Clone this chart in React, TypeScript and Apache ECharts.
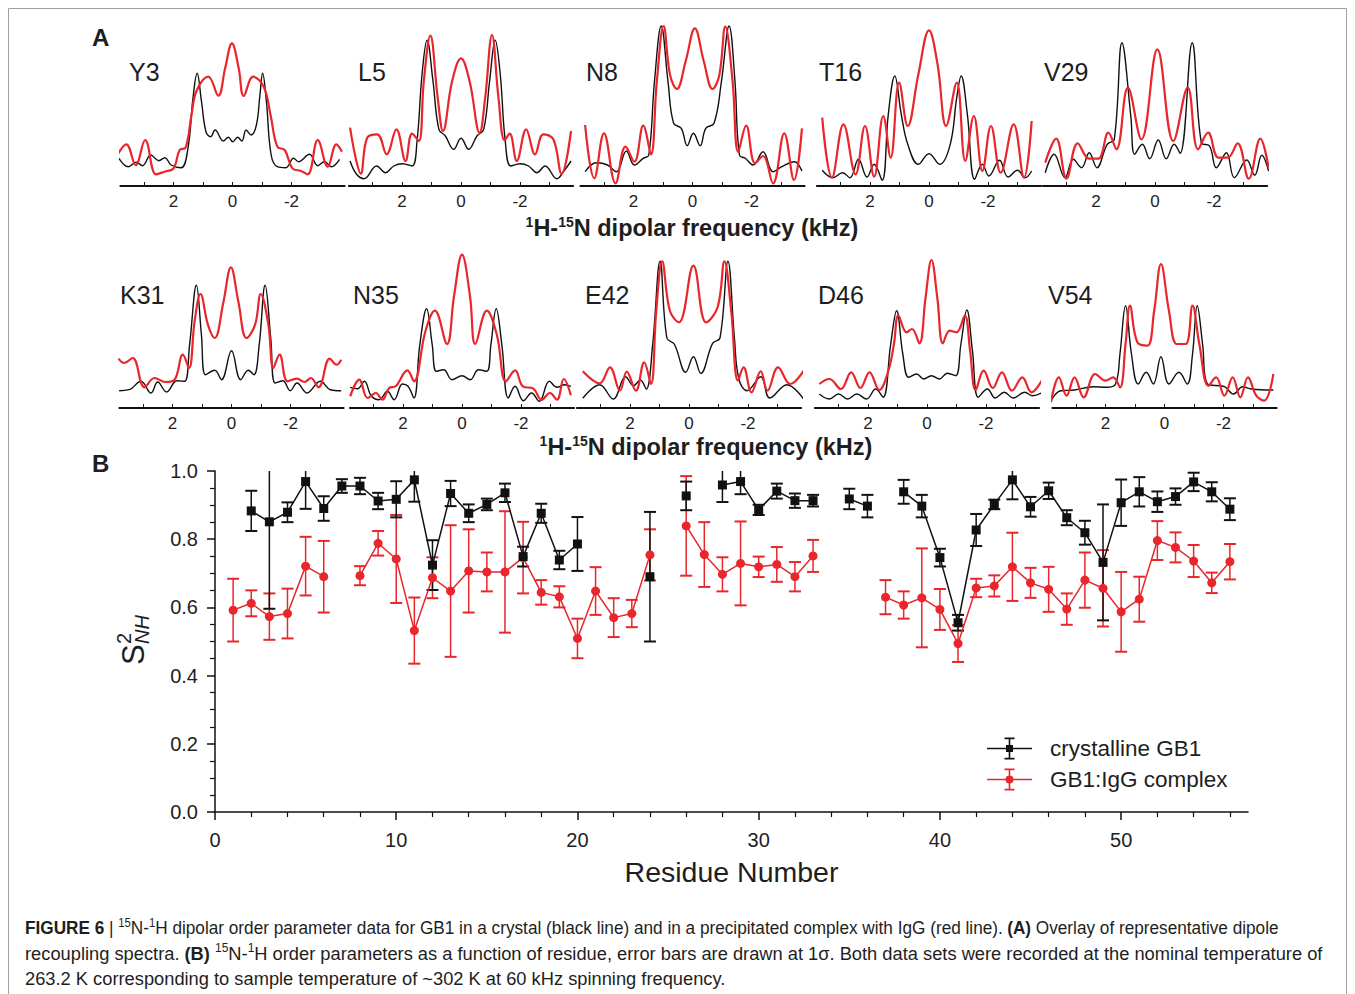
import React, { useEffect, useRef } from "react";
import * as echarts from "echarts";

// ---------------- Panel B data (residue-indexed, 1..56) ----------------
const residues = Array.from({ length: 56 }, (_, i) => i + 1);
const xTickValues = [0, 10, 20, 30, 40, 50];
const xMinorTickValues = [2, 4, 6, 8, 12, 14, 16, 18, 22, 24, 26, 28, 32, 34, 36, 38, 42, 44, 46, 48, 52, 54, 56];
const crystalS2 = [null, 0.883, 0.851, 0.879, 0.969, 0.890, 0.956, 0.956, 0.912, 0.917, 0.974, 0.724, 0.934, 0.876, 0.902, 0.936, 0.749, 0.876, 0.739, 0.786, null, null, null, 0.690, null, 0.927, null, 0.959, 0.969, 0.886, 0.941, 0.913, 0.913, null, 0.918, 0.897, null, 0.939, 0.897, 0.746, 0.555, 0.827, 0.902, 0.974, 0.895, 0.942, 0.863, 0.819, 0.732, 0.907, 0.939, 0.910, 0.925, 0.968, 0.939, 0.888];
const crystalErr = [null, 0.059, 0.255, 0.029, 0.08, 0.036, 0.02, 0.024, 0.024, 0.053, 0.064, 0.073, 0.037, 0.026, 0.017, 0.027, 0.029, 0.028, 0.027, 0.079, null, null, null, 0.19, null, 0.042, null, 0.05, 0.037, 0.015, 0.022, 0.021, 0.017, null, 0.03, 0.033, null, 0.035, 0.033, 0.026, 0.023, 0.047, 0.014, 0.057, 0.029, 0.024, 0.022, 0.035, 0.17, 0.068, 0.043, 0.03, 0.024, 0.027, 0.028, 0.032];
const complexS2 = [0.592, 0.612, 0.573, 0.582, 0.721, 0.690, null, 0.693, 0.788, 0.742, 0.532, 0.687, 0.648, 0.707, 0.704, 0.704, 0.746, 0.644, 0.631, 0.509, 0.648, 0.570, 0.582, 0.754, null, 0.839, 0.755, 0.697, 0.729, 0.719, 0.726, 0.690, 0.751, null, null, null, 0.630, 0.607, 0.628, 0.594, 0.494, 0.657, 0.663, 0.719, 0.672, 0.653, 0.595, 0.680, 0.656, 0.587, 0.624, 0.796, 0.776, 0.736, 0.672, 0.734];
const complexErr = [0.092, 0.038, 0.068, 0.073, 0.086, 0.105, null, 0.028, 0.036, 0.129, 0.097, 0.06, 0.193, 0.122, 0.057, 0.178, 0.105, 0.036, 0.031, 0.058, 0.07, 0.057, 0.04, 0.075, null, 0.146, 0.095, 0.05, 0.123, 0.03, 0.051, 0.043, 0.047, null, null, null, 0.05, 0.04, 0.145, 0.06, 0.054, 0.027, 0.031, 0.1, 0.044, 0.066, 0.046, 0.081, 0.112, 0.117, 0.066, 0.057, 0.044, 0.047, 0.03, 0.052];

// ---------------- Panel A spectra: [kHz, intensity] ----------------
const specTickValues = [-3, -2, -1, 0, 1, 2, 3];
const specLabelValues = [-2, 0, 2];
const y3Crystal = [[3.85, 27.7], [3.53, 19.3], [3.26, 23.7], [3.05, 20.3], [2.77, 31], [2.5, 25.3], [2.29, 28.3], [2.08, 21], [1.74, 18.3], [1.51, 37.7], [1.34, 87.7], [1.2, 112.7], [1.05, 84.3], [0.9, 54.3], [0.74, 49.3], [0.59, 56], [0.31, 45], [0.14, 48.7], [-0.01, 44.3], [-0.17, 48.7], [-0.32, 45], [-0.46, 56], [-0.63, 51], [-0.81, 61], [-0.93, 91], [-1.02, 112.7], [-1.15, 84.3], [-1.31, 31], [-1.52, 19.3], [-1.81, 18.3], [-2.07, 27.7], [-2.24, 24.3], [-2.61, 31.7], [-2.89, 20.3], [-3.12, 24.3], [-3.35, 19.3], [-3.63, 26.7]];
const y3Complex = [[3.87, 32.7], [3.6, 41.7], [3.28, 21], [2.96, 46], [2.59, 11.7], [2.31, 14.3], [2.0, 17.7], [1.79, 36], [1.59, 38.3], [1.39, 71], [1.22, 95], [0.82, 109.3], [0.48, 90.3], [0.25, 117.7], [0.02, 142.7], [-0.21, 117.7], [-0.38, 90], [-0.7, 109.3], [-1.06, 99.3], [-1.29, 71], [-1.52, 39.3], [-1.77, 36], [-2.03, 17.7], [-2.32, 15], [-2.55, 11.7], [-2.89, 46], [-3.23, 19.3], [-3.52, 41.7], [-3.71, 34.3]];
const l5Crystal = [[3.76, 25], [3.54, 11.7], [3.29, 7.3], [2.86, 20], [2.56, 13.3], [2.28, 20], [1.99, 22.3], [1.66, 20], [1.49, 45], [1.32, 111.7], [1.15, 145.7], [0.95, 105], [0.75, 56.7], [0.53, 50], [0.25, 36.7], [0, 47.7], [-0.26, 36.7], [-0.54, 50], [-0.77, 56.7], [-0.97, 105], [-1.16, 145.7], [-1.33, 111.7], [-1.5, 45], [-1.69, 20], [-2.01, 22.3], [-2.29, 20], [-2.57, 13.3], [-2.85, 20], [-3.25, 7.3], [-3.49, 15], [-3.73, 25]];
const l5Complex = [[3.76, 58.3], [3.57, 28], [3.4, 12.3], [3.18, 48.3], [2.84, 51.7], [2.52, 31.7], [2.19, 56.7], [1.88, 25], [1.66, 52.3], [1.43, 45], [1.26, 105], [1.04, 150.3], [0.79, 88.3], [0.61, 55], [0.3, 105], [0, 127.7], [-0.29, 105], [-0.63, 53.3], [-0.82, 88.3], [-1.05, 151], [-1.27, 88.3], [-1.48, 45.7], [-1.65, 52.3], [-1.89, 25], [-2.21, 56.7], [-2.51, 31.7], [-2.79, 51.7], [-3.13, 46.7], [-3.41, 12.3], [-3.73, 55]];
const n8Crystal = [[3.64, 14.3], [3.26, 23.3], [2.88, 21], [2.58, 14.3], [2.24, 35], [1.97, 21], [1.67, 27.7], [1.48, 31], [1.29, 104.3], [1.06, 160], [0.83, 104.3], [0.64, 62.7], [0.38, 57.7], [0.18, 40.3], [-0.03, 52.7], [-0.26, 40.3], [-0.45, 57.7], [-0.73, 62.7], [-0.98, 104.3], [-1.24, 160], [-1.44, 104.3], [-1.59, 31], [-1.79, 27.7], [-2.05, 21], [-2.39, 34.3], [-2.73, 14.3], [-3.03, 19.3], [-3.45, 24.3], [-3.71, 15]];
const n8Complex = [[3.64, 61], [3.33, 7.7], [3.0, 52.7], [2.61, 2.7], [2.27, 39.3], [1.97, 24.3], [1.67, 60.3], [1.41, 31.7], [1.21, 104.3], [0.98, 160], [0.76, 111], [0.53, 97], [0.23, 125], [-0.08, 157.7], [-0.38, 125], [-0.68, 97], [-0.91, 111], [-1.11, 159.3], [-1.36, 104.3], [-1.55, 34.3], [-1.82, 60.3], [-2.12, 22.7], [-2.39, 30], [-2.73, 2.7], [-3.11, 52.7], [-3.44, 6], [-3.71, 57.7]];
const t16Crystal = [[3.62, 15.7], [3.26, 8.3], [2.93, 13.3], [2.68, 8.3], [2.39, 26.7], [2.1, 9], [1.86, 21.7], [1.59, 5.7], [1.38, 71.7], [1.16, 110], [0.94, 71.7], [0.72, 41.7], [0.36, 21.7], [0, 32.3], [-0.36, 21.7], [-0.72, 41.7], [-0.94, 88.3], [-1.09, 110], [-1.3, 71.7], [-1.55, 6.7], [-1.81, 21.7], [-2.03, 10], [-2.39, 25.7], [-2.68, 9], [-3.0, 15.7], [-3.26, 8.3], [-3.48, 15]];
const t16Complex = [[3.62, 68.3], [3.29, 8.3], [2.9, 61.7], [2.49, 11.7], [2.17, 60], [1.86, 9.3], [1.55, 70], [1.3, 28.3], [1.01, 103.3], [0.72, 60], [0.36, 111.7], [0, 155.7], [-0.29, 121.7], [-0.58, 60], [-0.94, 103.3], [-1.23, 25], [-1.52, 70], [-1.81, 15], [-2.1, 60], [-2.43, 13.3], [-2.87, 61.7], [-3.22, 8.3], [-3.48, 65]];
const v29Crystal = [[3.72, 13.3], [3.42, 31.7], [3.05, 8.3], [2.77, 26.7], [2.49, 18.3], [2.23, 33.3], [1.97, 18.3], [1.62, 41.7], [1.38, 46.7], [1.12, 143.3], [0.82, 70], [0.69, 31.7], [0.43, 41.7], [0.18, 27.3], [-0.11, 46], [-0.38, 27.3], [-0.65, 41.7], [-0.85, 32.7], [-1.26, 143.3], [-1.57, 43.3], [-1.85, 40], [-2.08, 18.3], [-2.42, 33.3], [-2.69, 8.3], [-3.11, 26], [-3.38, 10.7], [-3.62, 30.7], [-3.85, 15]];
const v29Complex = [[3.72, 23.3], [3.35, 47.3], [3.0, 7.3], [2.62, 42.7], [2.23, 27.3], [1.92, 27.3], [1.58, 53.3], [1.31, 36.7], [0.92, 98.3], [0.46, 46.7], [-0.08, 136.7], [-0.62, 45], [-1.11, 98.3], [-1.46, 36.7], [-1.8, 53.3], [-2.15, 28.3], [-2.46, 28.3], [-2.8, 42.7], [-3.18, 7.3], [-3.57, 47.3], [-3.85, 18.3]];
const k31Crystal = [[3.81, 17.3], [3.47, 18.3], [3.07, 26.7], [2.73, 15], [2.5, 26], [2.2, 16], [1.85, 27.3], [1.59, 26.7], [1.42, 63.3], [1.19, 122.7], [1.02, 73.3], [0.88, 33.3], [0.57, 37.7], [0.34, 28.3], [0, 57.3], [-0.31, 28.3], [-0.57, 37.7], [-0.76, 33.3], [-0.94, 63.3], [-1.14, 122.7], [-1.33, 70], [-1.48, 25], [-1.74, 27.3], [-1.99, 17.3], [-2.22, 25], [-2.56, 15], [-3.01, 26.7], [-3.35, 18.3], [-3.72, 17.3]];
const k31Complex = [[3.83, 49.3], [3.64, 45], [3.35, 50], [2.95, 20.7], [2.61, 30], [2.24, 26], [1.93, 28.3], [1.65, 53.3], [1.44, 40], [1.25, 86.7], [1.05, 114], [0.8, 83.3], [0.57, 70], [0.28, 105], [0.02, 140.7], [-0.23, 106.7], [-0.51, 70], [-0.8, 83.3], [-0.99, 114], [-1.25, 83.3], [-1.42, 40], [-1.63, 53.3], [-1.9, 26.7], [-2.22, 29.3], [-2.47, 26], [-2.69, 30], [-2.95, 20.7], [-3.33, 49.3], [-3.56, 43.3], [-3.72, 48.3]];
const n35Crystal = [[3.79, 20.7], [3.54, 19.3], [3.31, 26.7], [3.07, 11.7], [2.81, 8.3], [2.53, 16.7], [2.3, 8.3], [2.02, 24], [1.83, 21.7], [1.63, 10], [1.43, 63.3], [1.2, 99.3], [1.01, 63.3], [0.87, 36.7], [0.62, 38.3], [0.34, 28.3], [0, 32.3], [-0.28, 28.3], [-0.56, 38.3], [-0.84, 36.7], [-0.98, 63.3], [-1.16, 99.3], [-1.35, 63.3], [-1.57, 10], [-1.8, 21.7], [-2.08, 7.3], [-2.36, 15], [-2.62, 6.7], [-2.96, 26.7], [-3.22, 20.7], [-3.48, 23.3], [-3.69, 21.7]];
const n35Complex = [[3.79, 11.7], [3.48, 28.3], [3.2, 10], [2.92, 15], [2.7, 8.3], [2.47, 20], [2.25, 21.7], [1.85, 37.7], [1.63, 26.7], [1.24, 76.7], [0.92, 97.3], [0.51, 64], [0.27, 112], [0, 153.3], [-0.27, 112], [-0.45, 64], [-0.84, 97.3], [-1.18, 73.3], [-1.49, 26.7], [-1.8, 37.7], [-2.06, 21.7], [-2.42, 19.3], [-2.7, 8.3], [-2.98, 15], [-3.22, 8.3], [-3.45, 29], [-3.69, 12.7]];
const e42Crystal = [[3.6, 9.7], [3.03, 23.3], [2.57, 9], [2.15, 31.3], [1.88, 22.3], [1.65, 28], [1.45, 19], [1.23, 64], [0.98, 146.7], [0.75, 70], [0.5, 64], [0.11, 35.7], [-0.15, 51.3], [-0.4, 34.7], [-0.8, 64.7], [-1.05, 70], [-1.32, 146.7], [-1.54, 70], [-1.69, 29], [-1.97, 17.3], [-2.43, 31.3], [-2.74, 10], [-3.32, 23.3], [-3.89, 8.7]];
const e42Complex = [[3.6, 36.7], [3.03, 24.7], [2.68, 40.7], [2.34, 17.3], [2.11, 36.3], [1.8, 17.3], [1.52, 45.7], [1.29, 24], [1.11, 97.3], [0.91, 146.7], [0.65, 97.3], [0.34, 85.7], [-0.15, 142.3], [-0.58, 85.7], [-0.97, 100.7], [-1.2, 146.7], [-1.43, 97.3], [-1.66, 27.3], [-1.85, 40.7], [-2.12, 15.7], [-2.43, 36.7], [-2.66, 17.3], [-3.02, 40.7], [-3.43, 24], [-3.89, 37.3]];
const d46Crystal = [[3.65, 14], [3.31, 9], [3.0, 14], [2.69, 9], [2.38, 14], [2.05, 9], [1.74, 19], [1.49, 10.7], [1.23, 64], [1.03, 97.3], [0.82, 54], [0.62, 30.7], [0.35, 34], [0.11, 29], [-0.15, 32.3], [-0.42, 29], [-0.69, 34.7], [-0.97, 32.3], [-1.15, 64], [-1.35, 98], [-1.54, 57.3], [-1.74, 10.7], [-2.05, 19], [-2.31, 10], [-2.62, 15.7], [-2.92, 10], [-3.31, 15.7], [-3.58, 12.3], [-3.92, 15.7]];
const d46Complex = [[3.65, 24], [3.31, 29], [2.92, 19], [2.57, 35.7], [2.26, 20], [1.95, 35.7], [1.62, 18], [1.31, 37.3], [1.12, 64], [0.97, 92.3], [0.69, 75.7], [0.51, 79], [0.26, 64.7], [0.05, 110], [-0.15, 148], [-0.35, 110], [-0.54, 64.7], [-0.77, 77.3], [-1.0, 75.7], [-1.28, 92.3], [-1.46, 57.3], [-1.65, 18], [-1.92, 37.3], [-2.23, 20], [-2.54, 35.7], [-2.88, 17.3], [-3.23, 30.7], [-3.54, 15.7], [-3.92, 29]];
const v54Crystal = [[3.85, 7.3], [3.51, 17.3], [3.05, 18], [2.43, 21.3], [1.97, 20.7], [1.66, 24], [1.51, 54], [1.32, 102.3], [1.12, 54], [0.89, 24], [0.62, 35.7], [0.38, 24], [0.12, 51.3], [-0.15, 24], [-0.49, 35.7], [-0.77, 24], [-0.95, 54], [-1.11, 102.3], [-1.29, 64], [-1.46, 24], [-2.03, 21.3], [-2.34, 14], [-2.65, 21.3], [-2.95, 19], [-3.69, 18]];
const v54Complex = [[3.85, 5.7], [3.58, 30.7], [3.32, 12.3], [3.05, 30.7], [2.74, 10.7], [2.35, 34], [2.0, 27.3], [1.74, 30.7], [1.51, 20.7], [1.32, 64], [1.17, 102.3], [0.92, 65.7], [0.58, 62.3], [0.35, 97.3], [0.12, 144], [-0.15, 97.3], [-0.42, 64], [-0.72, 64], [-0.95, 102.3], [-1.18, 64], [-1.49, 22.3], [-1.75, 30.7], [-2.03, 12.3], [-2.31, 30.7], [-2.57, 10.7], [-2.83, 30.7], [-3.11, 12.3], [-3.38, 7.3], [-3.69, 34]];

// ---------------- layout / style ----------------
const FONT = "'Liberation Sans', Arial, Helvetica, sans-serif";
const BLACK = "#111111";
const RED = "#e8262c";
const TXT = "#1e1e1e";
const PX_PER_KHZ = 29.5;
const HALF = 3.8;

const rows = [
  { top: 22, axisY: 186, titleY: 72 },
  { top: 245, axisY: 408, titleY: 295 },
];
const panels = [
  { name: "Y3", row: 0, zero: 232.5, labelX: 129, crystal: y3Crystal, complex: y3Complex },
  { name: "L5", row: 0, zero: 461, labelX: 358, crystal: l5Crystal, complex: l5Complex },
  { name: "N8", row: 0, zero: 692.5, labelX: 586, crystal: n8Crystal, complex: n8Complex },
  { name: "T16", row: 0, zero: 929, labelX: 819, crystal: t16Crystal, complex: t16Complex },
  { name: "V29", row: 0, zero: 1155, labelX: 1044, crystal: v29Crystal, complex: v29Complex },
  { name: "K31", row: 1, zero: 231.5, labelX: 120, crystal: k31Crystal, complex: k31Complex },
  { name: "N35", row: 1, zero: 462, labelX: 353, crystal: n35Crystal, complex: n35Complex },
  { name: "E42", row: 1, zero: 689, labelX: 585, crystal: e42Crystal, complex: e42Complex },
  { name: "D46", row: 1, zero: 927, labelX: 818, crystal: d46Crystal, complex: d46Complex },
  { name: "V54", row: 1, zero: 1164.5, labelX: 1048, crystal: v54Crystal, complex: v54Complex },
];

const ICON_BLACK =
  "path://M0 10.3h45v1.4H0z M21.7 0h1.6v22h-1.6z M17.5 0h10v1.8h-10z M17.5 20.2h10v1.8h-10z M19 7.5h7v7h-7z M57.9 10.9h0.1v0.1h-0.1z";
const ICON_RED =
  "path://M0 10.3h45v1.4H0z M21.7 0h1.6v22h-1.6z M17.5 0h10v1.8h-10z M17.5 20.2h10v1.8h-10z M26.5 11a4 4 0 1 1 -8 0a4 4 0 1 1 8 0z M57.9 10.9h0.1v0.1h-0.1z";

function errRender(color: string) {
  return (params: any, api: any) => {
    const x = api.value(0);
    const y = api.value(1);
    const e = api.value(2);
    const top = api.coord([x, y + e]);
    const bot = api.coord([x, y - e]);
    const cap = 6;
    return {
      type: "group",
      children: [
        { type: "line", shape: { x1: top[0], y1: top[1], x2: bot[0], y2: bot[1] }, style: { stroke: color, lineWidth: 1.5 } },
        { type: "line", shape: { x1: top[0] - cap, y1: top[1], x2: top[0] + cap, y2: top[1] }, style: { stroke: color, lineWidth: 2 } },
        { type: "line", shape: { x1: bot[0] - cap, y1: bot[1], x2: bot[0] + cap, y2: bot[1] }, style: { stroke: color, lineWidth: 2 } },
      ],
    };
  };
}

function text(t: string, x: number, y: number, fontSize: number, extra: any = {}) {
  return {
    type: "text",
    x,
    y,
    scaleX: extra.scaleX || 1,
    silent: true,
    style: {
      text: t,
      fill: TXT,
      fontSize,
      fontFamily: FONT,
      fontWeight: extra.bold ? "bold" : "normal",
      fontStyle: extra.italic ? "italic" : "normal",
      textAlign: extra.align || "left",
      align: extra.align || "left",
      textVerticalAlign: "middle",
      verticalAlign: "middle",
      rich: extra.rich,
      lineHeight: extra.lineHeight,
    },
  };
}

function buildOption() {
  const grid: any[] = [];
  const xAxis: any[] = [];
  const yAxis: any[] = [];
  const series: any[] = [];
  const graphic: any[] = [];

  panels.forEach((p, i) => {
    const r = rows[p.row];
    const h = r.axisY - r.top;
    grid.push({ left: p.zero - HALF * PX_PER_KHZ, top: r.top, width: 2 * HALF * PX_PER_KHZ, height: h });
    xAxis.push({
      gridIndex: i,
      type: "value",
      min: -HALF,
      max: HALF,
      inverse: true,
      axisLine: { show: true, onZero: false, lineStyle: { color: BLACK, width: 2 } },
      axisTick: { show: true, inside: true, length: 4, customValues: specTickValues, lineStyle: { color: BLACK, width: 1 } },
      axisLabel: {
        customValues: specLabelValues,
        formatter: (v: number) => (Math.abs(v - Math.round(v)) < 1e-6 && Math.round(v) % 2 === 0 ? String(Math.round(v)) : ""),
        fontSize: 17,
        color: TXT,
        margin: 7,
        fontFamily: FONT,
      },
      splitLine: { show: false },
    });
    yAxis.push({ gridIndex: i, type: "value", min: 0, max: h, show: false, splitLine: { show: false } });
    series.push({
      type: "line",
      name: p.name + " crystalline",
      xAxisIndex: i,
      yAxisIndex: i,
      data: p.crystal,
      symbol: "none",
      smooth: 0.4,
      silent: true,
      lineStyle: { color: BLACK, width: 1.4 },
      z: 2,
    });
    series.push({
      type: "line",
      name: p.name + " complex",
      xAxisIndex: i,
      yAxisIndex: i,
      data: p.complex,
      symbol: "none",
      smooth: 0.4,
      silent: true,
      lineStyle: { color: RED, width: 2.2 },
      z: 3,
    });
    graphic.push(text(p.name, p.labelX, r.titleY, 25));
  });

  // Panel B
  const gB = panels.length;
  grid.push({ left: 215, top: 471, width: 1033, height: 341 });
  xAxis.push({
    gridIndex: gB,
    type: "value",
    min: 0,
    max: 57,
    interval: 10,
    name: "Residue Number",
    nameLocation: "middle",
    nameGap: 45,
    nameTextStyle: { fontSize: 28.5, color: TXT, fontFamily: FONT },
    axisLine: { show: true, onZero: false, lineStyle: { color: BLACK, width: 1.5 } },
    axisTick: { show: true, length: 8, customValues: xTickValues, lineStyle: { color: BLACK, width: 1.5 } },
    axisLabel: { customValues: xTickValues, fontSize: 20, color: TXT, margin: 18, fontFamily: FONT },
    splitLine: { show: false },
  });
  xAxis.push({
    gridIndex: gB,
    type: "value",
    position: "bottom",
    min: 0,
    max: 57,
    axisLine: { show: false, onZero: false },
    axisTick: { show: true, length: 5, customValues: xMinorTickValues, lineStyle: { color: BLACK, width: 1.2 } },
    axisLabel: { show: false },
    splitLine: { show: false },
  });
  yAxis.push({
    gridIndex: gB,
    type: "value",
    min: 0,
    max: 1,
    interval: 0.2,
    axisLine: { show: true, lineStyle: { color: BLACK, width: 1.5 } },
    axisTick: { show: true, length: 8, lineStyle: { color: BLACK, width: 1.5 } },
    minorTick: { show: true, splitNumber: 4, length: 5, lineStyle: { color: BLACK, width: 1.2 } },
    axisLabel: { formatter: (v: number) => v.toFixed(1), fontSize: 20, color: TXT, margin: 17, fontFamily: FONT },
    splitLine: { show: false },
  });
  const xB = panels.length;
  const yB = panels.length;

  const crystalLine = residues.map((r, i) => [r, crystalS2[i] == null ? "-" : crystalS2[i]]);
  const complexLine = residues.map((r, i) => [r, complexS2[i] == null ? "-" : complexS2[i]]);
  const crystalBars = residues.filter((_, i) => crystalS2[i] != null).map((r) => [r, crystalS2[r - 1], crystalErr[r - 1]]);
  const complexBars = residues.filter((_, i) => complexS2[i] != null).map((r) => [r, complexS2[r - 1], complexErr[r - 1]]);

  series.push({
    type: "custom",
    name: "complex error",
    xAxisIndex: xB,
    yAxisIndex: yB,
    data: complexBars,
    encode: { x: 0, y: 1 },
    renderItem: errRender(RED),
    clip: true,
    silent: true,
    z: 5,
  });
  series.push({
    type: "custom",
    name: "crystal error",
    xAxisIndex: xB,
    yAxisIndex: yB,
    data: crystalBars,
    encode: { x: 0, y: 1 },
    renderItem: errRender(BLACK),
    clip: true,
    silent: true,
    z: 6,
  });
  series.push({
    type: "line",
    name: "GB1:IgG complex",
    xAxisIndex: xB,
    yAxisIndex: yB,
    data: complexLine,
    symbol: "circle",
    symbolSize: 9,
    showAllSymbol: true,
    connectNulls: false,
    lineStyle: { color: RED, width: 1.5 },
    itemStyle: { color: RED, borderWidth: 0 },
    silent: true,
    z: 7,
  });
  series.push({
    type: "line",
    name: "crystalline GB1",
    xAxisIndex: xB,
    yAxisIndex: yB,
    data: crystalLine,
    symbol: "rect",
    symbolSize: 9,
    showAllSymbol: true,
    connectNulls: false,
    lineStyle: { color: BLACK, width: 1.5 },
    itemStyle: { color: BLACK, borderWidth: 0 },
    silent: true,
    z: 8,
  });

  // texts
  graphic.push({
    type: "rect",
    shape: { x: 8.5, y: 8.5, width: 1338, height: 1010 },
    style: { fill: "none", stroke: "#a0a0a0", lineWidth: 1 },
    silent: true,
    z: -10,
  });
  graphic.push(text("A", 92, 37, 24, { bold: true }));
  graphic.push(text("B", 92, 463, 24, { bold: true }));
  const dipRich = {
    sup: { fontSize: 14, fontWeight: "bold", fontFamily: FONT, lineHeight: 15, verticalAlign: "top", fill: TXT, color: TXT },
  };
  const dipText = "{sup|1}H-{sup|15}N dipolar frequency (kHz)";
  graphic.push(text(dipText, 692, 228, 23.5, { bold: true, align: "center", rich: dipRich, lineHeight: 27 }));
  graphic.push(text(dipText, 706, 447, 23.5, { bold: true, align: "center", rich: dipRich, lineHeight: 27 }));

  // S^2_NH rotated y-axis title
  graphic.push({
    type: "group",
    x: 133,
    y: 665,
    rotation: Math.PI / 2,
    silent: true,
    children: [
      text("S", 0, 0, 31),
      text("2", 21, -9, 20),
      text("NH", 21, 9, 20, { italic: true }),
    ],
  });

  // caption
  const capRich = {
    b: { fontWeight: "bold", fontSize: 18.3, fontFamily: FONT, lineHeight: 23, fill: TXT, color: TXT },
    sup: { fontSize: 12, fontFamily: FONT, lineHeight: 13, verticalAlign: "top", fill: TXT, color: TXT },
  };
  const cap1 =
    "{b|FIGURE 6} | {sup|15}N-{sup|1}H dipolar order parameter data for GB1 in a crystal (black line) and in a precipitated complex with IgG (red line). {b|(A)} Overlay of representative dipole";
  const cap2 =
    "recoupling spectra. {b|(B)} {sup|15}N-{sup|1}H order parameters as a function of residue, error bars are drawn at 1σ. Both data sets were recorded at the nominal temperature of";
  const cap3 = "263.2 K corresponding to sample temperature of ~302 K at 60 kHz spinning frequency.";
  graphic.push(text(cap1, 25, 928, 18.3, { rich: capRich, lineHeight: 23, scaleX: 0.94 }));
  graphic.push(text(cap2, 25, 953, 18.3, { rich: capRich, lineHeight: 23 }));
  graphic.push(text(cap3, 25, 978, 18.3, { rich: capRich, lineHeight: 23 }));

  return {
    animation: false,
    backgroundColor: "#ffffff",
    textStyle: { fontFamily: FONT },
    grid,
    xAxis,
    yAxis,
    series,
    graphic,
    legend: {
      data: [
        { name: "crystalline GB1", icon: ICON_BLACK },
        { name: "GB1:IgG complex", icon: ICON_RED },
      ],
      orient: "vertical",
      left: 987,
      top: 737,
      itemWidth: 58,
      itemHeight: 22,
      itemGap: 8,
      padding: 0,
      selectedMode: false,
      itemStyle: { borderWidth: 0 },
      textStyle: { fontSize: 22.5, color: TXT, fontFamily: FONT, lineHeight: 22 },
    },
  };
}

export default function App() {
  const ref = useRef<HTMLDivElement>(null);
  useEffect(() => {
    const chart = echarts.init(ref.current!, null, { renderer: "svg", width: 1355, height: 994 });
    chart.setOption(buildOption() as any);
    return () => chart.dispose();
  }, []);
  return (
    <div
      ref={ref}
      style={{ position: "absolute", left: 0, top: 0, width: 1355, height: 994, background: "#ffffff" }}
    />
  );
}
